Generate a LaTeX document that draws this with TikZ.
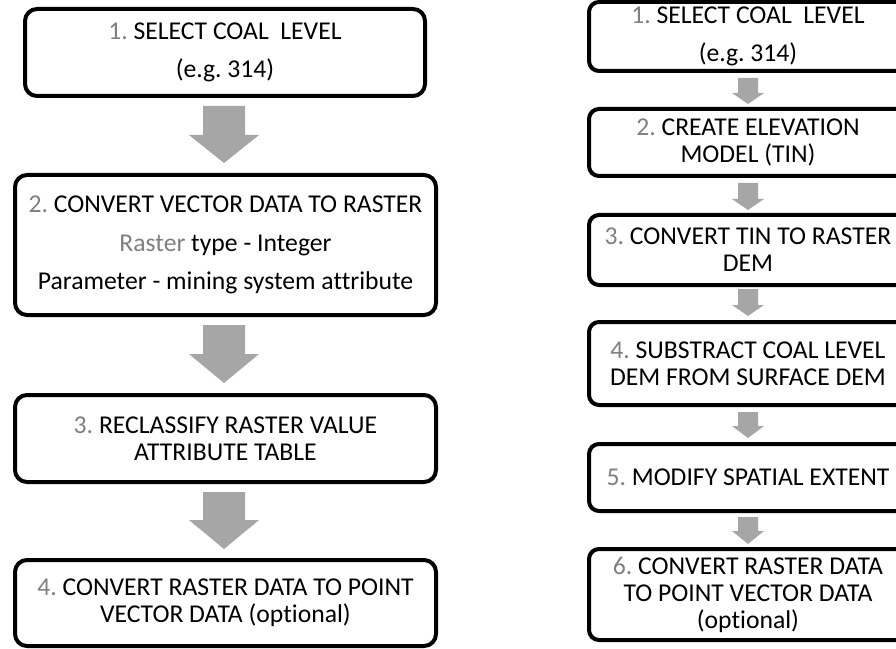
\documentclass[tikz,border=0pt]{standalone}
\usepackage{fontspec}
\setmainfont{Carlito}[Ligatures=NoCommon]
\frenchspacing
\definecolor{numgray}{HTML}{808080}
\definecolor{arrowgray}{HTML}{A6A6A6}
\tikzset{
  box/.style={draw=black, line width=3pt, fill=white, align=center, inner sep=0pt,
    font=\fontsize{19.25}{20.25}\selectfont\frenchspacing},
  lbox/.style={box, rounded corners=9pt, minimum width=315.75pt},
  rbox/.style={box, rounded corners=7.5pt, minimum width=238.5pt},
  wide/.style={font=\fontsize{19.25}{28.5}\selectfont\frenchspacing},
  blk/.style={fill=arrowgray, draw=none}
}
\newcommand{\nm}[1]{\textcolor{numgray}{#1}}
% block arrow: center x, top y, tip y, shaft half width, head half width, head start y
\newcommand{\blockarrow}[6]{%
  \fill[blk] ({#1-#4},#2) -- ({#1+#4},#2) -- ({#1+#4},#6) -- ({#1+#5},#6) -- (#1,#3) -- ({#1-#5},#6) -- ({#1-#4},#6) -- cycle;}
\begin{document}
\begin{tikzpicture}[x=0.75pt,y=-0.75pt]
\useasboundingbox (0,0) rectangle (896,649);
\clip (0,0) rectangle (896,649);
% left column
\node[box, rounded corners=9pt, minimum width=300pt, minimum height=65.25pt, wide] (L1) at (225,52.5)
  {\nm{1.} SELECT COAL\ \ LEVEL\\(e.g. 314)};
\node[lbox, minimum height=105pt, font=\fontsize{19.25}{29}\selectfont\frenchspacing] (L2) at (225.5,245)
  {\nm{2.} CONVERT VECTOR DATA TO RASTER\\\nm{Raster} type - Integer\\Parameter - mining system attribute};
\node[lbox, minimum height=65.25pt] (L3) at (225.5,438.5)
  {\nm{3.} RECLASSIFY RASTER VALUE\\ATTRIBUTE TABLE};
\node[lbox, minimum height=64.5pt] (L4) at (225.5,603)
  {\nm{4.} CONVERT RASTER DATA TO POINT\\VECTOR DATA (optional)};
\blockarrow{224}{106}{163}{21}{35}{135}
\blockarrow{224}{325}{383}{21}{35}{354}
\blockarrow{224}{492}{549}{21}{35}{520}
% right column
\node[rbox, minimum height=51.75pt, wide] (R1) at (748,36.5)
  {\nm{1.} SELECT COAL\ \ LEVEL\\(e.g. 314)};
\node[rbox, minimum height=50.25pt] (R2) at (748,142.5)
  {\nm{2.} CREATE ELEVATION\\MODEL (TIN)};
\node[rbox, minimum height=52.5pt] (R3) at (748,250)
  {\nm{3.} CONVERT TIN TO RASTER\\DEM};
\node[rbox, minimum height=62.25pt] (R4) at (748,363.5)
  {\nm{4.} SUBSTRACT COAL LEVEL\\DEM FROM SURFACE DEM};
\node[rbox, minimum height=50.25pt] (R5) at (748,477.5)
  {\nm{5.} MODIFY SPATIAL EXTENT};
\node[rbox, minimum height=68.25pt] (R6) at (748,594.5)
  {\nm{6.} CONVERT RASTER DATA\\TO POINT VECTOR DATA\\(optional)};
\blockarrow{748}{78}{104}{10}{16}{93}
\blockarrow{748}{183}{210}{10}{16}{199}
\blockarrow{748}{289}{316}{10}{16}{305}
\blockarrow{748}{412}{438}{10}{16}{426}
\blockarrow{748}{517}{544}{10}{16}{531}
\end{tikzpicture}
\end{document}
